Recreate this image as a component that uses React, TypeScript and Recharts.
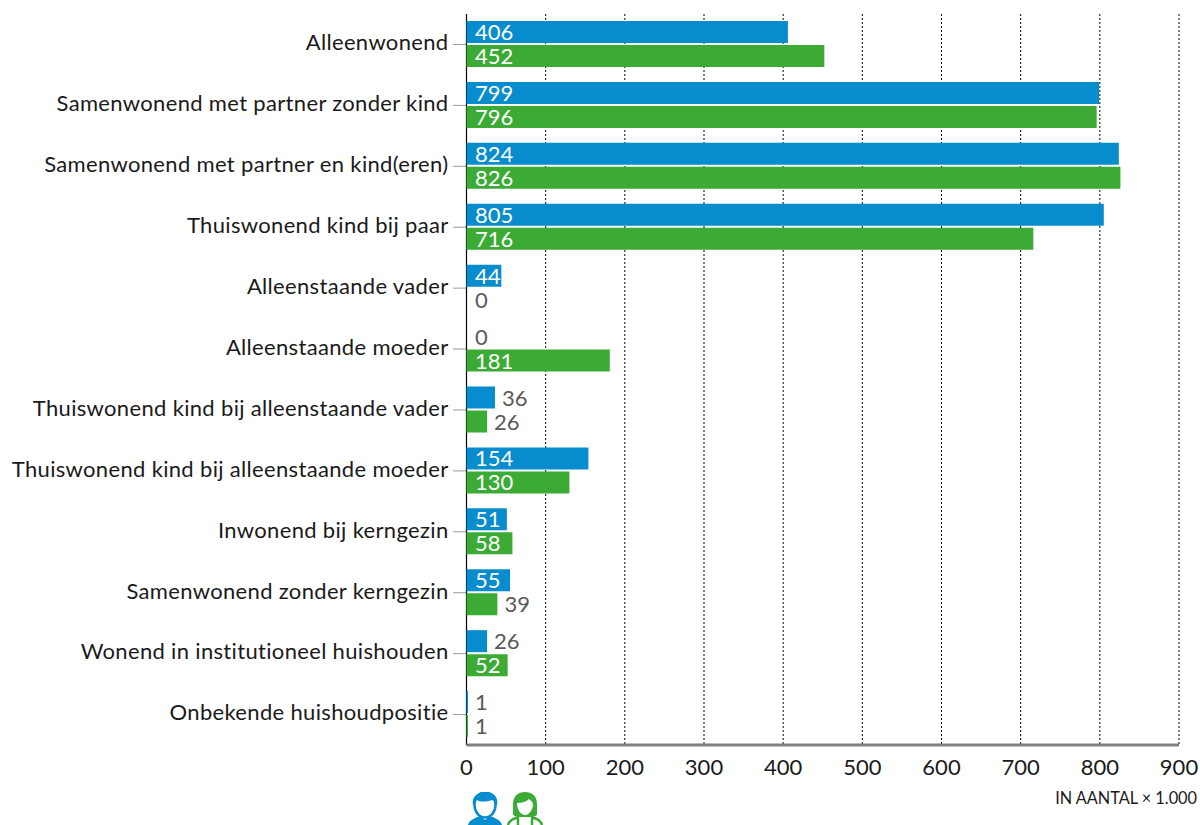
import React from "react";
import {
  BarChart,
  Bar,
  XAxis,
  YAxis,
  CartesianGrid,
  LabelList,
} from "recharts";

const categories = [
  "Alleenwonend",
  "Samenwonend met partner zonder kind",
  "Samenwonend met partner en kind(eren)",
  "Thuiswonend kind bij paar",
  "Alleenstaande vader",
  "Alleenstaande moeder",
  "Thuiswonend kind bij alleenstaande vader",
  "Thuiswonend kind bij alleenstaande moeder",
  "Inwonend bij kerngezin",
  "Samenwonend zonder kerngezin",
  "Wonend in institutioneel huishouden",
  "Onbekende huishoudpositie",
];
const mannen = [406, 799, 824, 805, 44, 0, 36, 154, 51, 55, 26, 1];
const vrouwen = [452, 796, 826, 716, 0, 181, 26, 130, 58, 39, 52, 1];
const xTicks = [0, 100, 200, 300, 400, 500, 600, 700, 800, 900];

const BLUE = "#078ccd";
const GREEN = "#3cab36";
const FONT = "Lato, sans-serif";

const data = categories.map((name, i) => ({
  name,
  mannen: mannen[i],
  vrouwen: vrouwen[i],
}));

// small bars get a grey label next to the bar, big ones white inside
const ValueLabel = (props: any) => {
  const { x, y, height, value } = props;
  const inside = value >= 44;
  const tx = inside || value <= 1 ? x + 8.5 : x + props.width + 7;
  return (
    <text
      x={tx}
      y={y + height / 2 + 8}
      fontSize={22}
      fontFamily={FONT}
      fill={inside ? "#ffffff" : "#595959"}
    >
      {value}
    </text>
  );
};

// zero values still need their label, and the value 1 a visible sliver
const minSize = (value: number) => (value === 0 ? 0.01 : value === 1 ? 1.5 : 0);

const ManIcon = () => (
  <svg width={36} height={33} viewBox="0 0 36 33" style={{ position: "absolute", left: 467, top: 792 }}>
    <path d="M1 33 C2 28 8 26 13 24 L18 28 L23 24 C28 26 34 28 35 33 Z" fill={BLUE} />
    <ellipse cx="18" cy="13" rx="10.5" ry="12.5" fill="#fff" stroke={BLUE} strokeWidth={2.5} />
    <path d="M6 14 C4 4 11 0 19 0 C27 0 32 6 30 14 C29 10 27 9 25 8 C19 10 13 10 10 8 C8 9 7 11 6 14 Z" fill={BLUE} />
  </svg>
);

const WomanIcon = () => (
  <svg width={38} height={33} viewBox="0 0 38 33" style={{ position: "absolute", left: 506, top: 792 }}>
    <path d="M2 33 C3 28 9 26 13 25 M36 33 C35 28 29 26 25 25 M12 26 V33 M26 26 V33" fill="none" stroke={GREEN} strokeWidth={2.5} />
    <path d="M7 22 V12 C7 4 12 0 19 0 C26 0 31 4 31 12 V22 C31 24 27 25 26 25 H12 C11 25 7 24 7 22 Z" fill={GREEN} />
    <path d="M11 11 C15 11 20 10 23 7 C25 9 27 10 27 12 C27 18 23 23 19 23 C15 23 11 18 11 11 Z" fill="#fff" />
  </svg>
);

export default function App() {
  return (
    <div style={{ position: "absolute", left: 0, top: 0, width: 1200, height: 825, overflow: "hidden" }}>
      <BarChart
        width={1200}
        height={825}
        data={data}
        layout="vertical"
        barSize={22}
        barGap={2}
        margin={{ top: 14, right: 21, bottom: 50, left: 0 }}
      >
        <CartesianGrid
          horizontal={false}
          stroke="#000000"
          strokeDasharray="2 2"
          strokeWidth={1}
        />
        {/* the solid zero line, as a grid line so the bars stay on top of it */}
        <CartesianGrid
          horizontal={false}
          verticalValues={[0]}
          stroke="#000000"
          strokeWidth={1.2}
        />
        <XAxis
          type="number"
          domain={[0, 900]}
          ticks={xTicks}
          interval={0}
          height={30}
          axisLine={{ stroke: "#7f7f7f", strokeWidth: 3 }}
          tickLine={false}
          tickMargin={8}
          tick={{ fontSize: 22, fontFamily: FONT, fill: "#1a1a1a" }}
        />
        <YAxis
          type="category"
          dataKey="name"
          width={466.5}
          interval={0}
          axisLine={false}
          tickSize={13}
          tickLine={{ stroke: "#333333", strokeDasharray: "1 1" }}
          tickMargin={5}
          tick={{ fontSize: 22, fontFamily: FONT, fill: "#1a1a1a", letterSpacing: 0.33, dy: -2 }}
        />
        <Bar dataKey="mannen" fill={BLUE} minPointSize={minSize} isAnimationActive={false}>
          <LabelList dataKey="mannen" content={ValueLabel} />
        </Bar>
        <Bar dataKey="vrouwen" fill={GREEN} minPointSize={minSize} isAnimationActive={false}>
          <LabelList dataKey="vrouwen" content={ValueLabel} />
        </Bar>
      </BarChart>
      <div
        style={{
          position: "absolute",
          right: 3,
          top: 788,
          fontSize: 16.3,
          fontFamily: FONT,
          color: "#1a1a1a",
          whiteSpace: "nowrap",
        }}
      >
        IN AANTAL × 1.000
      </div>
      <ManIcon />
      <WomanIcon />
    </div>
  );
}
